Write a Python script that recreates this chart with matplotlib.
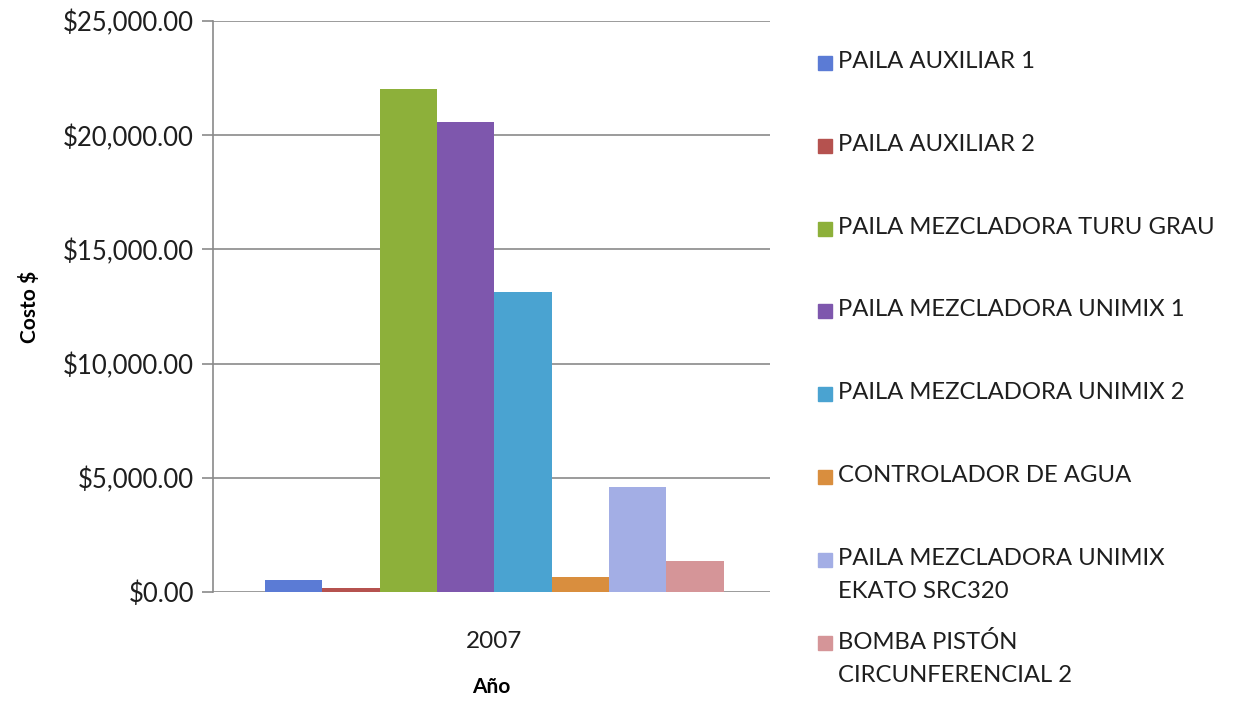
import matplotlib.pyplot as plt
from matplotlib.patches import Rectangle
from matplotlib.ticker import FuncFormatter
import numpy as np

plt.rcParams['font.family'] = ['Lato', 'DejaVu Sans']

equipos = ["PAILA AUXILIAR 1", "PAILA AUXILIAR 2", "PAILA MEZCLADORA TURU GRAU",
           "PAILA MEZCLADORA UNIMIX 1", "PAILA MEZCLADORA UNIMIX 2",
           "CONTROLADOR DE AGUA", "PAILA MEZCLADORA UNIMIX\nEKATO SRC320",
           "BOMBA PISTÓN\nCIRCUNFERENCIAL 2"]
costos = [520, 160, 22030, 20600, 13130, 650, 4600, 1350]
colores = ["#5B7BD5", "#B5524F", "#8DB03A", "#7E57AD", "#4AA3D1",
           "#D98E3E", "#A3AEE5", "#D59598"]
anio = "2007"

fig = plt.figure(figsize=(12.4, 7.04), dpi=100)
ax = fig.add_axes([0.172, 0.159, 0.449, 0.811])

n = len(costos)
ancho = 0.103
x = (np.arange(n) - (n - 1) / 2) * ancho
ax.bar(x, costos, width=ancho, color=colores, edgecolor="none", zorder=3)

ax.set_xlim(-0.505, 0.495)
ax.set_ylim(0, 25000)
ax.set_yticks(np.arange(0, 25001, 5000))
ax.yaxis.set_major_formatter(FuncFormatter(lambda v, p: f"${v:,.2f}"))
ax.set_xticks([0])
ax.set_xticklabels([anio])
ax.grid(axis="y", color="#8a8a8a", linewidth=1.2, zorder=0)
for s in ["top", "right", "bottom"]:
    ax.spines[s].set_visible(False)
ax.spines["left"].set_color("#8a8a8a")
ax.spines["left"].set_linewidth(1.2)
ax.tick_params(axis="y", length=8, width=1.2, color="#8a8a8a", labelsize=18.5,
               labelcolor="#1e1e1e", pad=6)
ax.tick_params(axis="x", length=0, labelsize=17.5, labelcolor="#1e1e1e", pad=28)
ax.set_ylabel("Costo $", fontsize=15, fontweight="bold", labelpad=16)
ax.set_xlabel("Año", fontsize=15, fontweight="bold", labelpad=18)

# leyenda a la derecha
fw, fh = fig.get_size_inches() * fig.dpi
ys = [63, 146, 229, 311, 394, 477, 560, 643]
for lab, col, yy in zip(equipos, colores, ys):
    fig.patches.append(Rectangle((818 / fw, 1 - (yy + 7) / fh), 14 / fw, 14 / fh,
                                 transform=fig.transFigure, color=col))
    fig.text(838 / fw, 1 - (yy - 12) / fh, lab, fontsize=17.2, color="#1e1e1e",
             va="top", ha="left", linespacing=1.7)

fig.savefig("out.png", dpi=100)
